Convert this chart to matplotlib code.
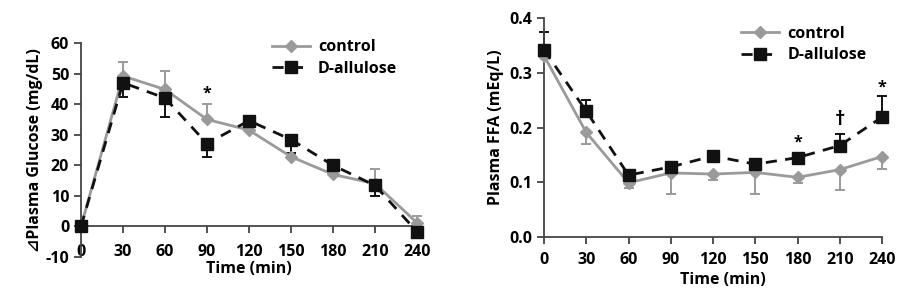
import matplotlib
matplotlib.use("Agg")
import matplotlib.pyplot as plt
import numpy as np

plt.rcParams['font.family'] = ['Open Sans', 'DejaVu Sans']
plt.rcParams['font.weight'] = 'bold'
plt.rcParams['axes.unicode_minus'] = False

time = [0, 30, 60, 90, 120, 150, 180, 210, 240]

# Left panel: delta plasma glucose (mg/dL)
glu_control = [0, 49.2, 44.8, 35.0, 31.5, 22.8, 17.0, 14.0, 1.2]
glu_control_err = [0, 4.7, 6.0, 5.1, 4.5, 0.8, 0.6, 4.9, 2.3]
glu_allulose = [0, 47.0, 42.0, 27.1, 34.6, 28.4, 20.0, 13.4, -1.7]
glu_allulose_err = [0, 4.7, 6.2, 4.4, 1.2, 4.5, 0.8, 3.6, 1.5]

# Right panel: plasma FFA (mEq/L)
ffa_control = [0.331, 0.191, 0.099, 0.117, 0.115, 0.118, 0.109, 0.123, 0.147]
ffa_control_err = [0.0, 0.021, 0.009, 0.038, 0.011, 0.039, 0.010, 0.038, 0.022]
ffa_allulose = [0.342, 0.230, 0.113, 0.128, 0.148, 0.133, 0.145, 0.167, 0.219]
ffa_allulose_err = [0.033, 0.020, 0.004, 0.004, 0.005, 0.004, 0.006, 0.022, 0.039]

series_labels = ['control', 'D-allulose']
glu_marks = [(90, 43.5, '*')]
ffa_marks = [(180, 0.172, '*'), (210, 0.214, '\u2020'), (240, 0.272, '*')]

GREY = '#9a9a9a'
BLACK = '#111111'
FS = 11.5

fig = plt.figure(figsize=(9.02, 3.05), dpi=100)

def style_axis(ax):
    for s in ['top', 'right']:
        ax.spines[s].set_visible(False)
    for s in ['left', 'bottom']:
        ax.spines[s].set_color('#444444')
        ax.spines[s].set_linewidth(1.3)
    ax.tick_params(axis='both', direction='out', length=5, width=1.3,
                   color='#444444', labelsize=FS)
    for lab in ax.get_xticklabels() + ax.get_yticklabels():
        lab.set_fontweight('bold')

def draw(ax, x, c, ce, a, ae, c_up, a_up):
    c = np.array(c); a = np.array(a)
    ce = np.array(ce); ae = np.array(ae)
    cerr = [np.zeros_like(ce), ce] if c_up else [ce, np.zeros_like(ce)]
    aerr = [np.zeros_like(ae), ae] if a_up else [ae, np.zeros_like(ae)]
    ax.errorbar(x, c, yerr=cerr, fmt='none', ecolor=GREY, elinewidth=1.4,
                capsize=3.5, capthick=1.4, zorder=2, clip_on=False)
    ax.errorbar(x, a, yerr=aerr, fmt='none', ecolor=BLACK, elinewidth=1.4,
                capsize=3.5, capthick=1.4, zorder=2, clip_on=False)
    ax.plot(x, c, color=GREY, lw=2.0, marker='D', ms=6, mfc=GREY, mec=GREY,
            label=series_labels[0], zorder=3, clip_on=False)
    ax.plot(x, a, color=BLACK, lw=2.0, ls=(0, (4, 3)), marker='s', ms=8,
            mfc=BLACK, mec=BLACK, label=series_labels[1], zorder=4, clip_on=False)

# Left
ax1 = fig.add_axes([81/902, 1-257/305, (417-81)/902, (257-43)/305])
draw(ax1, time, glu_control, glu_control_err, glu_allulose, glu_allulose_err,
     c_up=True, a_up=False)
ax1.set_xlim(0, 240)
ax1.set_ylim(-10, 60)
ax1.set_yticks(range(-10, 61, 10))
ax1.set_xticks(time)
ax1.spines['bottom'].set_position(('data', 0))
style_axis(ax1)
ax1.tick_params(axis='x', pad=8)
ax1.set_ylabel('\u22bfPlasma Glucose (mg/dL)', fontsize=FS, fontweight='bold', labelpad=2)
ax1.set_xlabel('Time (min)', fontsize=FS, fontweight='bold')
ax1.xaxis.set_label_coords(0.5, -0.02)
for x, y, t in glu_marks:
    ax1.text(x, y, t, ha='center', va='center', fontsize=FS, fontweight='bold')
leg1 = ax1.legend(loc='upper left', bbox_to_anchor=(0.525, 1.085), frameon=False,
                  fontsize=FS, handlelength=2.4, labelspacing=0.35, handletextpad=0.5)
for t in leg1.get_texts():
    t.set_fontweight('bold')

# Right
ax2 = fig.add_axes([544/902, 1-237/305, (882-544)/902, (237-18)/305])
draw(ax2, time, ffa_control, ffa_control_err, ffa_allulose, ffa_allulose_err,
     c_up=False, a_up=True)
ax2.set_xlim(0, 240)
ax2.set_ylim(0, 0.4)
ax2.set_yticks([0.0, 0.1, 0.2, 0.3, 0.4])
ax2.set_yticklabels(['0.0', '0.1', '0.2', '0.3', '0.4'])
ax2.set_xticks(time)
style_axis(ax2)
ax2.tick_params(axis='x', pad=6)
ax2.set_ylabel('Plasma FFA (mEq/L)', fontsize=FS, fontweight='bold', labelpad=4)
ax2.set_xlabel('Time (min)', fontsize=FS, fontweight='bold')
ax2.xaxis.set_label_coords(0.53, -0.16)
for x, y, t in ffa_marks:
    fs = FS + 3 if t == '\u2020' else FS
    ax2.text(x, y, t, ha='center', va='center', fontsize=fs, fontweight='bold')
leg2 = ax2.legend(loc='upper left', bbox_to_anchor=(0.54, 1.03), frameon=False,
                  fontsize=FS, handlelength=2.4, labelspacing=0.35, handletextpad=0.5)
for t in leg2.get_texts():
    t.set_fontweight('bold')

fig.savefig('out.png', dpi=100)
